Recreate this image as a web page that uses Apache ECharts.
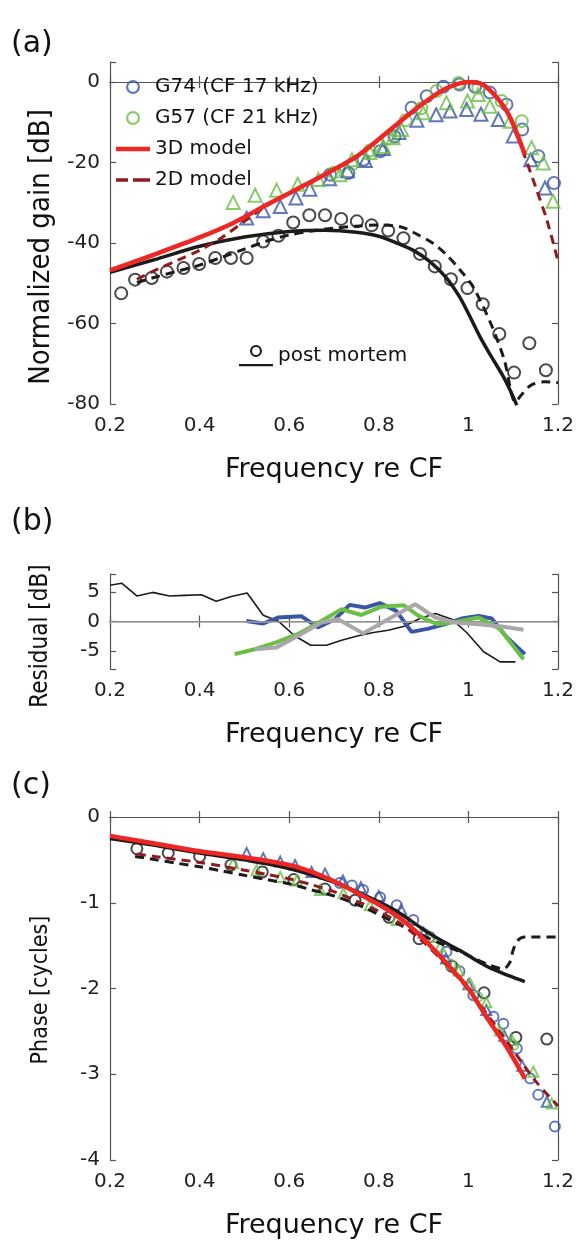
<!DOCTYPE html>
<html><head><meta charset="utf-8">
<script src="https://cdn.jsdelivr.net/npm/echarts@6/dist/echarts.min.js"></script>
<style>html,body{margin:0;padding:0;background:#fff}#c{width:580px;height:1241px}</style>
</head><body><div id="c"></div>
<script>
// ---------- Panel (a): normalized gain [dB] ----------
const aG74CircF = [0.691,0.732,0.766,0.803,0.835,0.873,0.907,0.944,0.98,1.015,1.048,1.085,1.12,1.156,1.191];
const aG74CircV = [-23,-22.6,-19.3,-17.2,-13.5,-6.4,-3.5,-1.15,-0.6,-1.15,-2.6,-5.6,-11.8,-18.4,-25.1];
const aG74TriF = [0.505,0.542,0.58,0.615,0.646,0.69,0.73,0.77,0.81,0.845,0.885,0.928,0.959,0.996,1.028,1.067,1.10,1.139,1.171];
const aG74TriV = [-33.8,-32,-30.9,-28.8,-26.6,-24,-22,-19.5,-16.5,-12.5,-9.5,-8.1,-7.2,-6.8,-8.0,-9.3,-13.4,-19.3,-26.3];
const aG57CircF = [0.70,0.74,0.78,0.82,0.86,0.895,0.929,0.978,1.022,1.074,1.119];
const aG57CircV = [-22.5,-20.5,-17,-14,-9.5,-6.5,-2.2,-0.2,-1.4,-4.7,-9.7];
const aG57TriF = [0.475,0.524,0.572,0.619,0.665,0.713,0.74,0.78,0.81,0.832,0.851,0.899,0.951,0.998,1.022,1.048,1.093,1.141,1.167,1.189];
const aG57TriV = [-29.9,-28.1,-26.9,-25.4,-24.2,-23,-19.3,-17.5,-16,-13.8,-11.8,-7.6,-5.1,-4.7,-3.1,-6,-9.7,-16.3,-20.1,-29.6];
const a3dF = [0.2,0.3,0.4,0.475,0.55,0.6,0.65,0.7,0.75,0.8,0.85,0.9,0.95,1.0,1.03,1.05,1.08,1.1,1.126];
const a3dV = [-46.8,-42.8,-38.6,-35,-30.5,-27.6,-24.7,-21.7,-18.5,-14.2,-9.6,-5.2,-1.6,0,-0.5,-2.2,-6.2,-10.5,-18];
const a2dF = [0.26,0.3,0.35,0.4,0.45,0.5,0.55,0.6,0.65,0.7,0.75,0.8,0.85,0.9,0.95,1.0,1.03,1.05,1.08,1.1,1.126,1.152,1.175,1.2];
const a2dV = [-49,-46.8,-44.3,-41.8,-38.6,-34.6,-30.7,-27.7,-24.8,-21.8,-18.6,-14.3,-9.7,-5.3,-1.7,-0.1,-0.6,-2.3,-6.3,-10.6,-18.5,-26.7,-34.2,-44.5];
const aPmCircF = [0.225,0.256,0.293,0.327,0.364,0.399,0.435,0.47,0.505,0.542,0.576,0.609,0.645,0.68,0.716,0.751,0.784,0.821,0.855,0.892,0.925,0.961,0.998,1.032,1.069,1.102,1.136,1.173];
const aPmCircV = [-52.5,-49.1,-48.7,-47.1,-46.2,-45.2,-43.7,-43.7,-43.7,-39.6,-38.2,-34.9,-33.1,-33.1,-34.0,-34.6,-35.6,-36.9,-38.8,-42.7,-45.8,-49.0,-51.2,-55.2,-62.6,-72.2,-64.9,-71.6];
const aPmSolidF = [0.2,0.3,0.4,0.5,0.6,0.68,0.75,0.8,0.84,0.88,0.914,0.95,0.98,1.0,1.026,1.05,1.078,1.095,1.108];
const aPmSolidV = [-47.3,-44.1,-40.8,-38.5,-37.1,-36.8,-37.3,-38.3,-40,-42,-44.6,-48.5,-53.3,-57.5,-63.3,-68,-73.2,-77,-80.3];
const aPmDashF = [0.26,0.3,0.35,0.4,0.45,0.5,0.55,0.6,0.65,0.7,0.75,0.8,0.85,0.88,0.92,0.95,0.98,1.01,1.05,1.08,1.105,1.12,1.14,1.17,1.2];
const aPmDashV = [-49.8,-48.5,-47,-45.5,-43.5,-41.5,-39.5,-38,-37,-36.3,-35.8,-35.5,-36,-37.5,-40,-42.8,-46.5,-50.8,-60,-69,-79.5,-77.5,-75.3,-74.5,-74.7];

// ---------- Panel (b): residual [dB] ----------
const bBlackF = [0.2,0.226,0.26,0.295,0.333,0.366,0.404,0.437,0.471,0.506,0.542,0.575,0.612,0.648,0.683,0.717,0.754,0.788,0.821,0.855,0.892,0.926,0.963,0.996,1.034,1.071,1.105];
const bBlackV = [6.1,6.45,4.3,4.9,4.3,4.4,4.5,3.4,4.2,4.8,1.06,0.1,-2.4,-4.0,-4.0,-3.15,-2.4,-1.85,-1.47,-0.85,0.5,1.35,0.39,-1.85,-5.1,-6.8,-6.8];
const bBlueF = [0.504,0.542,0.575,0.627,0.664,0.702,0.735,0.769,0.802,0.839,0.873,0.911,0.948,0.985,1.023,1.052,1.086,1.126];
const bBlueV = [0.1,-0.34,0.67,0.9,-1.0,0.39,2.8,2.35,3.1,1.8,-1.75,-1.2,-0.45,0.5,0.95,0.5,-2.7,-5.5];
const bGreenF = [0.478,0.523,0.571,0.62,0.668,0.717,0.761,0.806,0.855,0.889,0.93,0.97,1.023,1.071,1.123];
const bGreenV = [-5.5,-4.67,-3.5,-2.1,-0.07,2.07,1.1,2.5,2.74,0.95,-0.45,-0.07,0.67,-1.3,-6.35];
const bGrayF = [0.523,0.571,0.62,0.672,0.709,0.765,0.821,0.881,0.926,0.97,1.023,1.075,1.123];
const bGrayV = [-4.67,-4.4,-2.4,-0.17,0.39,-2.0,0.39,2.9,0.67,-0.17,-0.45,-0.85,-1.4];

// ---------- Panel (c): phase [cycles] ----------
const cRedF = [0.2,0.3,0.4,0.5,0.6,0.65,0.7,0.75,0.8,0.85,0.9,0.95,1.0,1.04,1.085,1.126];
const cRedV = [-0.22,-0.31,-0.4,-0.47,-0.56,-0.64,-0.75,-0.88,-1.02,-1.19,-1.42,-1.7,-2.0,-2.33,-2.68,-3.05];
const c2dF = [0.26,0.3,0.4,0.5,0.55,0.6,0.65,0.7,0.75,0.8,0.85,0.9,0.95,1.0,1.05,1.1,1.15,1.2];
const c2dV = [-0.43,-0.46,-0.53,-0.62,-0.67,-0.72,-0.79,-0.87,-0.98,-1.1,-1.25,-1.46,-1.72,-2.01,-2.36,-2.72,-3.08,-3.37];
const cPmSolidF = [0.2,0.3,0.4,0.5,0.6,0.7,0.75,0.8,0.84,0.88,0.914,0.95,0.989,1.02,1.048,1.09,1.126];
const cPmSolidV = [-0.25,-0.33,-0.42,-0.5,-0.6,-0.76,-0.87,-0.99,-1.1,-1.24,-1.36,-1.47,-1.58,-1.68,-1.76,-1.85,-1.92];
const cPmDashF = [0.256,0.304,0.35,0.4,0.45,0.5,0.55,0.6,0.65,0.7,0.765,0.84,0.914,0.989,1.048,1.078,1.092,1.1,1.11,1.126,1.2];
const cPmDashV = [-0.46,-0.5,-0.54,-0.58,-0.63,-0.68,-0.73,-0.78,-0.85,-0.92,-1.05,-1.24,-1.42,-1.59,-1.73,-1.77,-1.7,-1.55,-1.44,-1.4,-1.4];
const cPmCircF = [0.26,0.33,0.4,0.47,0.54,0.61,0.68,0.747,0.823,0.89,0.963,1.035,1.106,1.175];
const cPmCircV = [-0.37,-0.42,-0.46,-0.56,-0.64,-0.73,-0.84,-0.97,-1.17,-1.42,-1.74,-2.05,-2.57,-2.59];
const cG74CircF = [0.713,0.74,0.765,0.803,0.84,0.877,0.914,0.951,0.98,1.011,1.056,1.078,1.108,1.138,1.156,1.193];
const cG74CircV = [-0.77,-0.8,-0.85,-0.94,-1.03,-1.2,-1.4,-1.57,-1.8,-2.08,-2.33,-2.41,-2.7,-3.05,-3.24,-3.61];
const cG74TriF = [0.505,0.542,0.58,0.613,0.65,0.68,0.72,0.76,0.8,0.85,0.9,0.95,1.0,1.04,1.08,1.12,1.175];
const cG74TriV = [-0.42,-0.48,-0.52,-0.56,-0.64,-0.66,-0.74,-0.82,-0.92,-1.08,-1.35,-1.65,-1.95,-2.25,-2.55,-2.9,-3.32];
const cG57CircF = [0.9,0.96,1.02,1.1];
const cG57CircV = [-1.36,-1.72,-2.1,-2.66];
const cG57TriF = [0.475,0.527,0.58,0.617,0.669,0.721,0.78,0.84,0.914,0.937,0.978,1.004,1.04,1.07,1.097,1.145,1.186];
const cG57TriV = [-0.54,-0.62,-0.7,-0.74,-0.85,-0.89,-1.03,-1.2,-1.4,-1.51,-1.79,-1.94,-2.16,-2.49,-2.6,-2.97,-3.34];

// ---------- ticks / labels ----------
const xMin = 0.2, xMax = 1.2, xStep = 0.2;
const aYMin = -80, aYMax = 5, aYStep = 20;
const bYMin = -8, bYMax = 8;
const cYMin = -4, cYMax = 0, cYStep = 1;
const aYLabels = [-80, -60, -40, -20, 0];
const bYLabels = [-5, 0, 5];
const cYLabels = [-4, -3, -2, -1, 0];
const legendNames = ['G74 (CF 17 kHz)', 'G57 (CF 21 kHz)', '3D model', '2D model'];
const yNames = ['Normalized gain [dB]', 'Residual [dB]', 'Phase [cycles]'];

const zip = (a, b) => a.map((v, i) => [v, b[i]]);
const FONT = 'DejaVu Sans';
const NARROW = '"DejaVu Sans Condensed", "DejaVu Sans"';
const AXC = '#555';
const BLUE = '#3A55A6', GREEN = '#6BBE46', RED = '#EE2624', DRED = '#8E1B1F', GRAY = '#A8A8A8', BLK = '#1b1b1b';

const grids = [
  {left: 110, top: 62, width: 448, height: 342},
  {left: 110, top: 574, width: 448, height: 95},
  {left: 110, top: 817, width: 448, height: 343}
];

function xAxes(gi) {
  const base = {gridIndex: gi, type: 'value', min: xMin, max: xMax, interval: xStep,
    axisLine: {show: true, lineStyle: {color: AXC, width: 1.2}},
    axisTick: {show: true, inside: true, length: 6, lineStyle: {color: AXC, width: 1.2}},
    splitLine: {show: false}};
  return [
    Object.assign({}, base, {position: 'bottom',
      axisLabel: {fontSize: 20, fontFamily: FONT, color: '#222', margin: 12,
        formatter: v => String(Math.round(v * 10) / 10)},
      name: 'Frequency re CF', nameLocation: 'middle', nameGap: 52,
      nameTextStyle: {fontSize: 27, fontFamily: FONT, color: '#111'}}),
    Object.assign({}, base, {position: 'top', axisLabel: {show: false}})
  ];
}
function yAxes(gi, cfg, labels) {
  const base = Object.assign({gridIndex: gi, type: 'value',
    axisLine: {show: true, lineStyle: {color: AXC, width: 1.2}},
    axisTick: {show: true, inside: true, length: 6, lineStyle: {color: AXC, width: 1.2}},
    splitLine: {show: false}}, cfg);
  return [
    Object.assign({}, base, {position: 'left',
      axisLabel: {fontSize: 20, fontFamily: FONT, color: '#222', margin: 10,
        formatter: v => { const r = Math.round(v * 100) / 100; return labels.indexOf(r) < 0 ? '' : String(r); }}}),
    Object.assign({}, base, {position: 'right', axisLabel: {show: false}})
  ];
}

const xAxis = [].concat(xAxes(0), xAxes(1), xAxes(2));
const yAxis = [].concat(
  yAxes(0, {min: aYMin, max: aYMax, interval: aYStep}, aYLabels),
  yAxes(1, {min: bYMin, max: bYMax, splitNumber: 3}, bYLabels),
  yAxes(2, {min: cYMin, max: cYMax, interval: cYStep}, cYLabels)
);

function scat(name, gi, F, V, color, sym, size, z) {
  return {type: 'scatter', name: name, xAxisIndex: gi * 2, yAxisIndex: gi * 2, data: zip(F, V),
    symbol: sym, symbolSize: size, z: z || 2, silent: true,
    itemStyle: {color: 'rgba(0,0,0,0)', borderColor: color, borderWidth: 2}};
}
function line(name, gi, F, V, color, width, dashed, z, smooth) {
  return {type: 'line', name: name, xAxisIndex: gi * 2, yAxisIndex: gi * 2, data: zip(F, V),
    symbol: 'none', smooth: smooth === undefined ? 0.3 : smooth, z: z || 3, silent: true, clip: true,
    lineStyle: {color: color, width: width, type: dashed ? [9, 6] : 'solid', cap: 'butt'},
    itemStyle: {color: color}};
}

const series = [
  // panel (a)
  scat('G74 (CF 17 kHz)', 0, aG74CircF, aG74CircV, BLUE, 'circle', 12),
  scat('G74 tri a', 0, aG74TriF, aG74TriV, BLUE, 'triangle', 13),
  scat('G57 (CF 21 kHz)', 0, aG57CircF, aG57CircV, GREEN, 'circle', 12),
  scat('G57 tri a', 0, aG57TriF, aG57TriV, GREEN, 'triangle', 13),
  scat('pm circ a', 0, aPmCircF, aPmCircV, BLK, 'circle', 12),
  line('pm solid a', 0, aPmSolidF, aPmSolidV, BLK, 3.5, false, 4),
  line('pm dash a', 0, aPmDashF, aPmDashV, BLK, 3, true, 4),
  line('2D model', 0, a2dF, a2dV, DRED, 3, true, 5),
  line('3D model', 0, a3dF, a3dV, RED, 4.5, false, 6),
  {type: 'line', name: 'post mortem', xAxisIndex: 0, yAxisIndex: 0, data: [],
    symbol: 'none', lineStyle: {color: BLK, width: 2}, itemStyle: {color: BLK}},
  // panel (b)
  Object.assign(line('res pm', 1, bBlackF, bBlackV, BLK, 1.6, false, 3, false), {
    markLine: {silent: true, symbol: ['none', 'none'], label: {show: false},
      lineStyle: {color: '#A0A0A0', width: 1.5, type: 'solid'}, data: [{yAxis: 0}]}}),
  line('res G74', 1, bBlueF, bBlueV, BLUE, 4, false, 4, false),
  line('res G57', 1, bGreenF, bGreenV, GREEN, 4, false, 5, false),
  line('res gray', 1, bGrayF, bGrayV, GRAY, 4, false, 6, false),
  // panel (c)
  scat('pm circ c', 2, cPmCircF, cPmCircV, BLK, 'circle', 11),
  scat('G74 circ c', 2, cG74CircF, cG74CircV, BLUE, 'circle', 10),
  scat('G74 tri c', 2, cG74TriF, cG74TriV, BLUE, 'triangle', 10),
  scat('G57 circ c', 2, cG57CircF, cG57CircV, GREEN, 'circle', 10),
  scat('G57 tri c', 2, cG57TriF, cG57TriV, GREEN, 'triangle', 10),
  line('pm dash c', 2, cPmDashF, cPmDashV, BLK, 3, true, 4),
  line('pm solid c', 2, cPmSolidF, cPmSolidV, BLK, 3.5, false, 4),
  line('2D c', 2, c2dF, c2dV, DRED, 3, true, 5),
  line('3D c', 2, cRedF, cRedV, RED, 4.5, false, 6)
];

const ringIcon = 'path://M0,7a7,7 0 1,0 14,0a7,7 0 1,0 -14,0z M2.2,7a4.8,4.8 0 1,1 9.6,0a4.8,4.8 0 1,1 -9.6,0z';
const legendData = [
  {name: legendNames[0], icon: ringIcon, itemStyle: {color: BLUE, borderWidth: 0}},
  {name: legendNames[1], icon: ringIcon, itemStyle: {color: GREEN, borderWidth: 0}},
  {name: legendNames[2], icon: 'path://M0,0h34v4.5h-34z', itemStyle: {color: RED, borderWidth: 0}},
  {name: legendNames[3], icon: 'path://M0,0h12v3.5h-12z M17,0h17v3.5h-17z', itemStyle: {color: DRED, borderWidth: 0}}
];
const pmIcon = 'path://M0,20h34v2.2h-34z M11,7a6,6 0 1,0 12,0a6,6 0 1,0 -12,0z M13.1,7a3.9,3.9 0 1,1 7.8,0a3.9,3.9 0 1,1 -7.8,0z';

function yName(text, cy, size) {
  return {type: 'text', x: 41, y: cy, rotation: Math.PI / 2, silent: true,
    style: {text: text, fontSize: size, fontFamily: NARROW, fill: '#111', align: 'center', verticalAlign: 'middle'}};
}

const labelStyle = {fontSize: 30, fontWeight: 'normal', fontFamily: FONT, color: '#111'};
const option = {
  animation: false,
  backgroundColor: '#fff',
  title: [
    {text: '(a)', left: 6, top: 24, textStyle: labelStyle},
    {text: '(b)', left: 6, top: 502, textStyle: labelStyle},
    {text: '(c)', left: 6, top: 766, textStyle: labelStyle}
  ],
  graphic: [
    yName(yNames[0], 247, 29),
    yName(yNames[1], 636, 24),
    yName(yNames[2], 990, 23)
  ],
  legend: [
    {data: legendData, orient: 'vertical', left: 111, top: 72, itemWidth: 34, itemHeight: 14, itemGap: 11,
      selectedMode: false, textStyle: {fontSize: 20, fontFamily: FONT, color: '#111'}},
    {data: [{name: 'post mortem', icon: pmIcon, itemStyle: {color: BLK, borderWidth: 0}}],
      orient: 'vertical', left: 234, top: 340, itemWidth: 34, itemHeight: 22,
      selectedMode: false, textStyle: {fontSize: 20, fontFamily: FONT, color: '#111'}}
  ],
  grid: grids,
  xAxis: xAxis,
  yAxis: yAxis,
  series: series
};
const chart = echarts.init(document.getElementById('c'), null, {renderer: 'canvas'});
chart.setOption(option);
</script></body></html>
